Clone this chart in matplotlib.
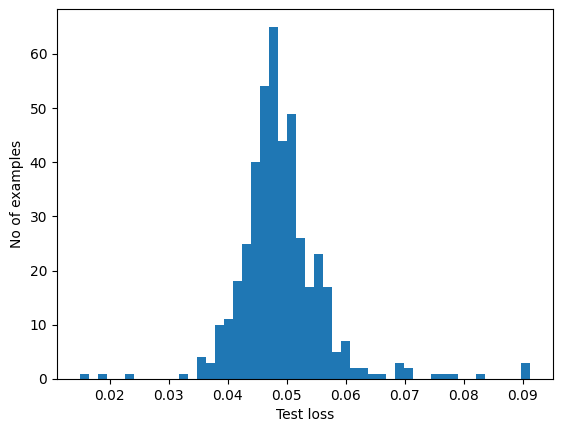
import numpy as np
import matplotlib
matplotlib.use("Agg")
import matplotlib.pyplot as plt

loss_min = 0.0149
loss_max = 0.0913
counts = [1, 0, 1, 0, 0, 1, 0, 0, 0, 0,
          0, 1, 0, 4, 3, 10, 11, 18, 25, 40,
          54, 65, 44, 49, 26, 17, 23, 17, 5, 7,
          2, 2, 1, 1, 0, 3, 2, 0, 0, 1,
          1, 1, 0, 0, 1, 0, 0, 0, 0, 3]

edges = np.linspace(loss_min, loss_max, len(counts) + 1)

fig = plt.figure(figsize=(5.62, 4.32), dpi=100)
ax = fig.add_axes([57/562, (432-379)/432, 496/562, 369.7/432])
ax.hist(edges[:-1], bins=edges, weights=counts, color="#1f77b4")
ax.set_xlabel("Test loss")
ax.set_ylabel("No of examples")
fig.savefig("out.png", dpi=100)
